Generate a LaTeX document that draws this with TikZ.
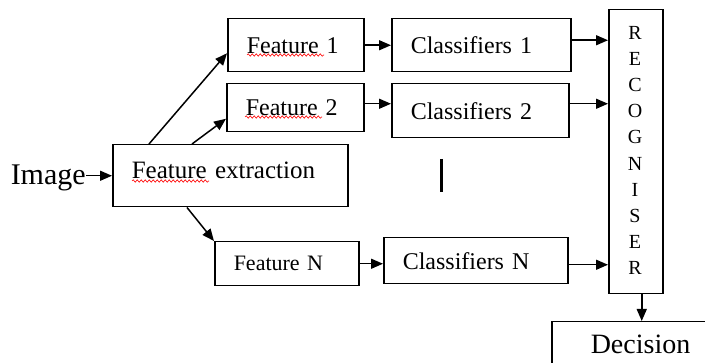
\documentclass[tikz,border=0pt]{standalone}
\usepackage{fontspec}
\setmainfont{Liberation Serif}
\usetikzlibrary{arrows.meta,decorations.pathmorphing}

\begin{document}
\begin{tikzpicture}[x=1pt, y=-1pt, line width=1.5pt,
  >={Triangle[length=12pt, width=10pt]},
  block/.style={draw, anchor=north west, align=left, inner xsep=19pt, inner ysep=0pt,
    font=\fontsize{24}{28}\selectfont},
  spell/.style={draw=red, line width=0.6pt, decorate,
    decoration={snake, amplitude=1.2pt, segment length=4pt}}]

% page area, in pixels from the upper left corner
\useasboundingbox (0,0) rectangle (705,363);

% input
\node[anchor=base west, inner sep=0pt, font=\fontsize{30}{34}\selectfont] (image) at (10,185) {Image};

% feature blocks
\node[block, text width=197pt, minimum height=62pt, text depth=12pt,
  font=\fontsize{25}{30}\selectfont] (extraction) at (112,144) {Feature extraction};
\node[block, text width=98pt,  minimum height=53pt] (feature1) at (227,18)  {Feature 1};
\node[block, text width=99pt,  minimum height=48pt] (feature2) at (226,83)  {Feature 2};
\node[block, text width=106pt, minimum height=44pt,
  font=\fontsize{22}{26}\selectfont] (featureN) at (214,241) {Feature N};

% classifier blocks
\node[block, text width=141pt, minimum height=53pt] (classifier1) at (391,18)  {Classifiers 1};
\node[block, text width=139pt, minimum height=54pt] (classifier2) at (391,83)  {Classifiers 2};
\node[block, text width=146pt, minimum height=46pt] (classifierN) at (383,237) {Classifiers N};

% recogniser, one letter under the other
\node[draw, anchor=north west, minimum width=54pt, minimum height=284pt, inner sep=0pt] (recogniser) at (608,9) {};
\foreach \letter [count=\i] in {R,E,C,O,G,N,I,S,E,R}
  \node[font=\fontsize{20}{24}\selectfont, inner sep=0pt] (letter\i) at (635, {33+26.1*(\i-1)}) {\letter};

% output (runs off the page)
\node[block, inner xsep=39pt, text width=122pt, minimum height=50pt, text depth=5pt,
  font=\fontsize{28}{32}\selectfont] (decision) at (551,321) {Decision};

% the mark between the rows
\draw[line width=3pt] (441,159) -- (441,192);

% spell checker underlines
\draw[spell] (247,55) -- (324,55);
\draw[spell] (245,117) -- (322,117);
\draw[spell] (132,181) -- (209,181);

% connectors
\draw[->] (image.east |- extraction.west) -- (extraction.west);
\draw[->] ([xshift=37pt]extraction.north west) -- ([yshift=-8pt]feature1.west);
\draw[->] ([xshift=80pt]extraction.north west) -- ([yshift=-11pt]feature2.west);
\draw[->] ([xshift=75pt]extraction.south west) -- (featureN.north west);

\draw[->] (feature1.east) -- (classifier1.west);
\draw[->] ([yshift=4pt]feature2.east) -- ([yshift=4pt]feature2.east -| classifier2.west);
\draw[->] (featureN.east) -- (featureN.east -| classifierN.west);

\draw[->] ([yshift=5pt]classifier1.east) -- ([yshift=5pt]classifier1.east -| recogniser.west);
\draw[->] ([yshift=7pt]classifier2.east) -- ([yshift=7pt]classifier2.east -| recogniser.west);
\draw[->] ([yshift=-4pt]classifierN.east) -- ([yshift=-4pt]classifierN.east -| recogniser.west);

\draw[->] ([xshift=6pt]recogniser.south) -- ([xshift=6pt]recogniser.south |- decision.north);

\end{tikzpicture}
\end{document}
